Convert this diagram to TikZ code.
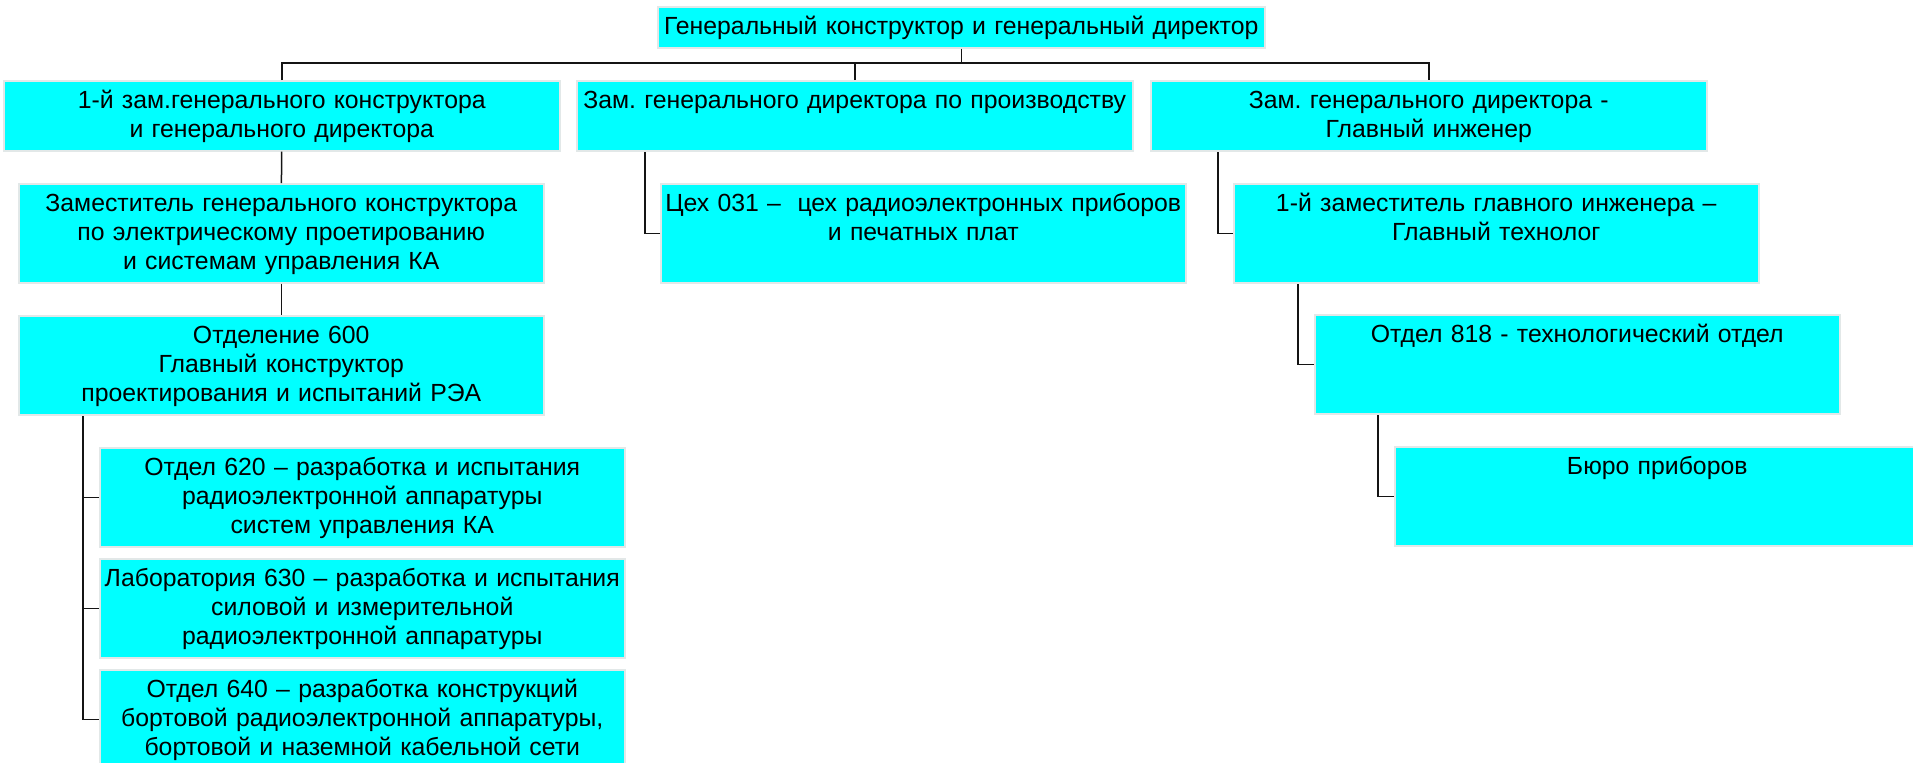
\documentclass[tikz,border=0pt]{standalone}
\usepackage{fontspec}
\setmainfont{Liberation Sans}
\usepackage{tikz}
\usetikzlibrary{positioning}
\definecolor{aqua}{RGB}{0,255,255}
\definecolor{boxrim}{RGB}{226,232,232}
\definecolor{ink}{RGB}{20,20,20}
\newcommand{\orgfont}{\fontsize{12.4}{14.5}\selectfont}
\frenchspacing
\tikzset{
  orgbox/.style={draw=boxrim,fill=aqua,line width=0.75pt,anchor=north west,
    inner sep=0pt,align=center,font=\orgfont,text=black,text height=14pt},
  headbox/.style={orgbox,text width=303.5pt,text depth=6.5pt},
  deputybox/.style={orgbox,text width=278pt,text depth=21pt},
  unitbox/.style={orgbox,text width=262.5pt,text depth=35.5pt},
  link/.style={draw=ink,line width=0.75pt}
}

\begin{document}
\begin{tikzpicture}[x=0.5pt,y=-0.5pt]
  \clip (0,0) rectangle (1913,762);
  \node[headbox] (gen) at (657,6) {Генеральный конструктор и генеральный директор};
  \node[deputybox] (zamgk) at (3,80) {1-й зам.генерального конструктора\\ и генерального директора};
  \node[deputybox] (zampr) at (576,80) {Зам. генерального директора по производству};
  \node[deputybox] (zamgi) at (1150,80) {Зам. генерального директора -\\ Главный инженер};
  \node[unitbox] (zamel) at (18,183) {Заместитель генерального конструктора\\ по электрическому проетированию\\ и системам управления КА};
  \node[unitbox] (cex) at (660,183) {Цех 031 –~ цех радиоэлектронных приборов\\ и печатных плат};
  \node[unitbox] (zamgt) at (1233,183) {1-й заместитель главного инженера –\\ Главный технолог};
  \node[unitbox] (otd600) at (18,315) {Отделение 600\\ Главный конструктор\\ проектирования и испытаний РЭА};
  \node[unitbox] (otd818) at (1314,314) {Отдел 818 - технологический отдел};
  \node[unitbox] (otd620) at (99,447) {Отдел 620 – разработка и испытания\\ радиоэлектронной аппаратуры\\ систем управления КА};
  \node[unitbox] (lab630) at (99,558) {Лаборатория 630 – разработка и испытания\\ силовой и измерительной\\ радиоэлектронной аппаратуры};
  \node[unitbox] (otd640) at (99,669) {Отдел 640 – разработка конструкций\\ бортовой радиоэлектронной аппаратуры,\\ бортовой и наземной кабельной сети};
  \node[unitbox] (buro) at (1394,446) {Бюро приборов};

  \coordinate (bus) at (0,63);
  \draw[link] (gen.south) -- (gen.south |- bus);
  \draw[link] (zamgk.north) -- (zamgk.north |- bus) -- (zamgi.north |- bus) -- (zamgi.north);
  \draw[link] (zampr.north) -- (zampr.north |- bus);
  \draw[link] (zamgk) -- (zamel);
  \draw[link] (zamel) -- (otd600);
  \draw[link] (cex.west) -- ++(-15,0) coordinate (k1) -- (k1 |- zampr.south);
  \draw[link] (zamgt.west) -- ++(-15,0) coordinate (k2) -- (k2 |- zamgi.south);
  \draw[link] (otd818.west) -- ++(-16,0) coordinate (k3) -- (k3 |- zamgt.south);
  \draw[link] (buro.west) -- ++(-16,0) coordinate (k4) -- (k4 |- otd818.south);
  \draw[link] (otd640.west) -- ++(-16,0) coordinate (k5) -- (k5 |- otd600.south);
  \draw[link] (otd620.west) -- (otd620.west -| k5);
  \draw[link] (lab630.west) -- (lab630.west -| k5);
\end{tikzpicture}
\end{document}
